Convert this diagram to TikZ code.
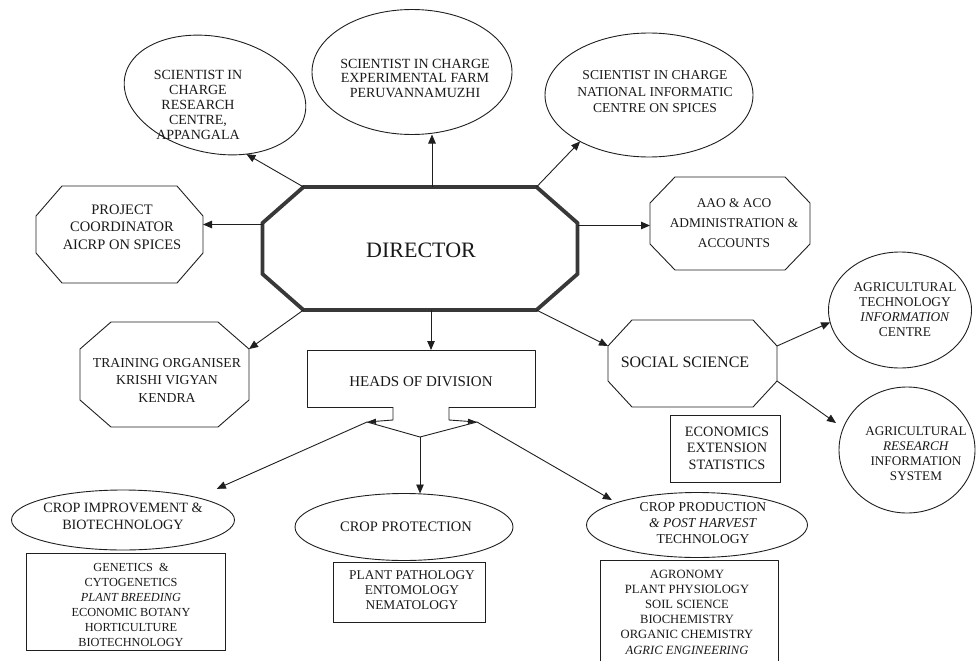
\documentclass[tikz,border=0pt]{standalone}
\usepackage{fontspec}
\setmainfont{Liberation Serif}
\usetikzlibrary{shapes.geometric,arrows.meta}
\newcommand\fz[2]{\fontsize{#1}{#2}\selectfont}
\newcommand\octdraw[4]{\draw[#4] ([xshift=#2]#1.north west) -- ([xshift=-#2]#1.north east) -- ([yshift=-#3]#1.north east) -- ([yshift=#3]#1.south east) -- ([xshift=-#2]#1.south east) -- ([xshift=#2]#1.south west) -- ([yshift=#3]#1.south west) -- ([yshift=-#3]#1.north west) -- cycle;}
\tikzset{
  ln/.style={draw=black!88, line width=0.9pt, line join=round},
  arr/.style={ln, -{Triangle[length=9pt,width=7.5pt]}},
  tip/.style={ln, -{Triangle[length=9pt,width=5pt]}},
  box/.style={inner sep=0pt, outer sep=0pt},
  rbox/.style={box, draw=black!88, line width=0.9pt},
  ell/.style={ellipse, draw=black!88, line width=0.9pt, inner sep=0pt, outer sep=0pt},
  txt/.style={align=center, inner sep=0pt, text=black!90},
  thick oct/.style={draw=black!78, line width=3.8pt, line join=miter},
}
\begin{document}
\begin{tikzpicture}[x=1pt,y=-1pt]
\useasboundingbox (0,0) rectangle (976,661);

% Director
\node[box, minimum width=315pt, minimum height=123pt] (dir) at (420,248.5) {};
\octdraw{dir}{41pt}{36pt}{thick oct}
\node[txt, font=\fz{22}{26}] (dirt) at (421,250) {DIRECTOR};

% top ellipses
\node[ell, rotate=-12, minimum width=184pt, minimum height=116pt] (e1) at (215,95) {};
\node[txt, font=\fz{14}{15.2}] (t1) at (198,105) {SCIENTIST IN\\CHARGE\\RESEARCH\\CENTRE,\\APPANGALA};
\node[ell, minimum width=200pt, minimum height=125pt] (e2) at (412,72) {};
\node[txt, font=\fz{14}{14.5}] (t2) at (415,78) {SCIENTIST IN CHARGE\\EXPERIMENTAL FARM\\PERUVANNAMUZHI};
\node[ell, minimum width=208pt, minimum height=124pt] (e3) at (649,95) {};
\node[txt, font=\fz{13.6}{16.5}] (t3) at (655,92) {SCIENTIST IN CHARGE\\NATIONAL INFORMATIC\\CENTRE ON SPICES};

% side octagons
\node[box, minimum width=167pt, minimum height=97pt] (pc) at (119.5,234.5) {};
\octdraw{pc}{26pt}{30pt}{ln}
\node[txt, font=\fz{14.5}{17.5}] (t4) at (122,227) {PROJECT\\COORDINATOR\\AICRP ON SPICES};

\node[box, minimum width=160pt, minimum height=93pt] (aao) at (730,223.5) {};
\octdraw{aao}{25pt}{26pt}{ln}
\node[txt, font=\fz{13.4}{20}] (t5) at (734,223) {AAO \& ACO\\ADMINISTRATION \&\\ACCOUNTS};

\node[box, minimum width=169pt, minimum height=105pt] (tr) at (164.5,374.5) {};
\octdraw{tr}{31pt}{27pt}{ln}
\node[txt, font=\fz{13.7}{17.5}] (t6) at (167,380) {TRAINING ORGANISER\\KRISHI VIGYAN\\KENDRA};

% heads of division
\node[box, minimum width=228pt, minimum height=57pt] (hod) at (421,378.5) {};
\draw[ln] ([xshift=86pt]hod.south west) -- (hod.south west) -- (hod.north west) -- (hod.north east) -- (hod.south east) -- ([xshift=-86pt]hod.south east);
\node[txt, font=\fz{15}{17}] (hodt) at (421,382) {HEADS OF DIVISION};

% social science
\node[box, minimum width=169pt, minimum height=87pt] (ss) at (692.5,363.5) {};
\octdraw{ss}{24pt}{26pt}{ln}
\node[txt, font=\fz{16}{18}] (sst) at (685,362) {SOCIAL SCIENCE};

\node[rbox, minimum width=110pt, minimum height=67pt] (eco) at (725,448.5) {};
\node[txt, font=\fz{14.3}{16.5}] (ecot) at (727,448) {ECONOMICS\\EXTENSION\\STATISTICS};

\node[ell, minimum width=143pt, minimum height=116pt] (atic) at (900,310) {};
\node[txt, font=\fz{13.4}{15}] (atict) at (905,310) {AGRICULTURAL\\TECHNOLOGY\\\textit{INFORMATION}\\CENTRE};

\node[ell, minimum width=136pt, minimum height=126pt] (aris) at (907,450) {};
\node[txt, font=\fz{13.2}{15}] (arist) at (916,454) {AGRICULTURAL\\\textit{RESEARCH}\\INFORMATION\\SYSTEM};

% divisions
\node[ell, minimum width=223pt, minimum height=60pt] (cim) at (123,520) {};
\node[txt, font=\fz{14.2}{17}] (cimt) at (123,516.5) {CROP IMPROVEMENT \&\\BIOTECHNOLOGY};
\node[rbox, minimum width=199pt, minimum height=97pt] (gen) at (125.5,601.5) {};
\node[txt, font=\fz{12.3}{15}] (gent) at (131,604.5) {GENETICS \ \&\\CYTOGENETICS\\\textit{PLANT BREEDING}\\ECONOMIC BOTANY\\HORTICULTURE\\BIOTECHNOLOGY};

\node[ell, minimum width=218pt, minimum height=67pt] (cp) at (404,527) {};
\node[txt, font=\fz{14.5}{17}] (cpt) at (406,527) {CROP PROTECTION};
\node[rbox, minimum width=152pt, minimum height=60pt] (pp) at (409,592) {};
\node[txt, font=\fz{13.4}{15}] (ppt) at (412,590) {PLANT PATHOLOGY\\ENTOMOLOGY\\NEMATOLOGY};

\node[ell, minimum width=221pt, minimum height=65pt] (cpr) at (697,525) {};
\node[txt, font=\fz{13.6}{16}] (cprt) at (703,523) {CROP PRODUCTION\\\textit{\& POST HARVEST}\\TECHNOLOGY};
\node[box, minimum width=178pt, minimum height=101pt] (agr) at (689,610.5) {};
\draw[ln] (agr.south west) -- (agr.north west) -- (agr.north east) -- (agr.south east);
\node[txt, font=\fz{12.6}{15.2}] (agrt) at (687,612) {AGRONOMY\\PLANT PHYSIOLOGY\\SOIL SCIENCE\\BIOCHEMISTRY\\ORGANIC CHEMISTRY\\\textit{AGRIC ENGINEERING}};

% connectors from director
\draw[arr] ([xshift=41pt]dir.north west) -- (e1.-50);
\draw[arr] ([xshift=12pt]dir.north) -- ([xshift=12pt]dir.north |- e2.south);
\draw[arr] ([xshift=-41pt]dir.north east) -- (e3.214);
\draw[arr] ([yshift=24pt]dir.west) -- ([yshift=24pt]dir.west -| pc.east);
\draw[arr] ([yshift=23pt]dir.east) -- ([yshift=23pt]dir.east -| aao.west);
\draw[arr] ([xshift=41pt]dir.south west) -- ([yshift=-27pt]tr.north east);
\draw[arr] ([xshift=11pt]dir.south) -- ([xshift=11pt]dir.south |- hod.north);
\draw[arr] ([xshift=-41pt]dir.south east) -- ([yshift=-26pt]ss.north west);
\draw[arr] ([yshift=-26pt]ss.north east) -- (atic.190);
\draw[arr] ([yshift=26pt]ss.south east) -- ([shift={(-3pt,27pt)}]aris.west);

% heads of division split
\coordinate (lt) at (367,422);
\coordinate (rt) at (477,422);
\coordinate (mid) at (420,437);
\draw[tip] ([xshift=86pt]hod.south west) -- ++(0,13) -- (lt);
\draw[tip] ([xshift=-86pt]hod.south east) -- ++(0,13) -- (rt);
\draw[ln] (lt) -- (mid) -- (rt);
\draw[arr] (mid) -- (mid |- cp.north);
\draw[arr] (lt) -- ([shift={(15pt,10pt)}]cim.north east);
\draw[arr] (rt) -- ([shift={(-7pt,2pt)}]cpr.north west);
\end{tikzpicture}
\end{document}
